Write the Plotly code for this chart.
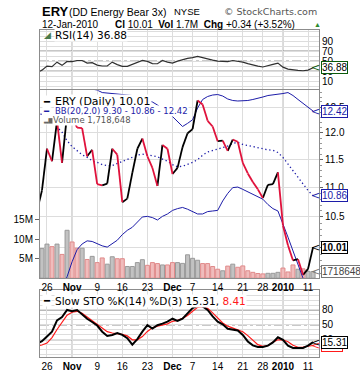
import math
import plotly.graph_objects as go

# ---------------- data ----------------
dates = ["2009-10-22", "2009-10-23", "2009-10-26", "2009-10-27", "2009-10-28", "2009-10-29", "2009-10-30",
         "2009-11-02", "2009-11-03", "2009-11-04", "2009-11-05", "2009-11-06",
         "2009-11-09", "2009-11-10", "2009-11-11", "2009-11-12", "2009-11-13",
         "2009-11-16", "2009-11-17", "2009-11-18", "2009-11-19", "2009-11-20",
         "2009-11-23", "2009-11-24", "2009-11-25", "2009-11-27", "2009-11-30",
         "2009-12-01", "2009-12-02", "2009-12-03", "2009-12-04",
         "2009-12-07", "2009-12-08", "2009-12-09", "2009-12-10", "2009-12-11",
         "2009-12-14", "2009-12-15", "2009-12-16", "2009-12-17", "2009-12-18",
         "2009-12-21", "2009-12-22", "2009-12-23", "2009-12-24",
         "2009-12-28", "2009-12-29", "2009-12-30", "2009-12-31",
         "2010-01-04", "2010-01-05", "2010-01-06", "2010-01-07", "2010-01-08",
         "2010-01-11", "2010-01-12"]

close = [10.60, 10.95, 11.70, 11.47, 12.23, 11.44, 12.35,
         12.30, 12.10, 12.09, 11.56, 11.68,
         11.06, 11.04, 11.07, 11.70, 11.59,
         10.75, 10.81, 11.26, 11.70, 11.89,
         11.56, 11.35, 11.03, 11.77, 11.70,
         11.24, 11.35, 11.73, 11.99,
         12.07, 12.63, 12.55, 12.23, 12.12,
         11.84, 11.85, 11.66, 11.87, 11.83,
         11.44, 11.25, 11.10, 10.97,
         10.82, 11.05, 11.06, 11.27,
         10.36, 10.04, 9.80, 9.82, 9.58,
         9.67, 10.01]

bb_upper = [14.9, 14.9, 14.9, 14.9, 14.92, 14.64, 14.15,
            13.70, 13.35, 13.12, 12.97, 12.86,
            12.84, 12.79, 12.78, 12.78, 12.77,
            12.76, 12.75, 12.73, 12.69, 12.66,
            12.63, 12.60, 12.54, 12.46, 12.41,
            12.31, 12.22, 12.12, 12.18,
            12.25, 12.48, 12.65, 12.71, 12.74,
            12.75, 12.72, 12.66, 12.63, 12.62,
            12.62, 12.63, 12.65, 12.67,
            12.70, 12.73, 12.74, 12.75,
            12.77, 12.79, 12.73, 12.65, 12.57,
            12.49, 12.42]

bb_mid = [12.40, 12.35, 12.28, 12.20, 12.11, 12.01, 11.85,
          11.74, 11.66, 11.59, 11.54, 11.48,
          11.45, 11.41, 11.39, 11.39, 11.43,
          11.47, 11.50, 11.54, 11.58, 11.60,
          11.59, 11.57, 11.55, 11.51, 11.47,
          11.41, 11.37, 11.38, 11.41,
          11.45, 11.50, 11.58, 11.64, 11.67,
          11.69, 11.72, 11.75, 11.80, 11.82,
          11.78, 11.76, 11.73, 11.71,
          11.69, 11.68, 11.67, 11.63,
          11.54, 11.42, 11.31, 11.20, 11.07,
          10.95, 10.86]

bb_lower = [9.25, 9.20, 9.20, 9.25, 9.30, 9.38, 9.55,
            9.78, 9.97, 10.06, 10.11, 10.10,
            10.06, 10.03, 10.01, 10.07, 10.12,
            10.21, 10.28, 10.33, 10.42, 10.50,
            10.51, 10.49, 10.45, 10.51, 10.55,
            10.61, 10.64, 10.66, 10.63,
            10.59, 10.55, 10.55, 10.59, 10.60,
            10.61, 10.77, 10.90, 11.00, 11.01,
            10.97, 10.93, 10.88, 10.84,
            10.80, 10.71, 10.64, 10.60,
            10.39, 10.17, 9.95, 9.75, 9.53,
            9.39, 9.30]

volume = [7.0e6, 7.6e6, 8.75e6, 8.1e6, 8.75e6, 6.1e6, 12.3e6,
          9.3e6, 7.7e6, 7.7e6, 4.8e6, 5.6e6,
          4.0e6, 5.2e6, 3.6e6, 5.5e6, 5.0e6,
          5.0e6, 3.0e6, 3.0e6, 4.0e6, 4.75e6,
          3.3e6, 4.0e6, 3.75e6, 3.4e6, 3.4e6,
          4.0e6, 4.0e6, 3.8e6, 6.0e6,
          5.1e6, 4.6e6, 3.75e6, 3.75e6, 3.0e6,
          2.3e6, 1.9e6, 3.1e6, 3.6e6, 2.8e6,
          3.15e6, 1.9e6, 1.5e6, 1.2e6,
          1.1e6, 1.25e6, 1.25e6, 1.5e6,
          2.6e6, 1.6e6, 3.4e6, 2.3e6, 2.4e6,
          1.75e6, 1718648]

# bar direction (1 = up/grey, 0 = down/pink)
vol_up = [1, 1, 1, 0, 1, 0, 1,
          0, 0, 1, 0, 1,
          0, 0, 1, 1, 0,
          0, 1, 1, 1, 1,
          0, 0, 0, 1, 0,
          0, 1, 1, 1,
          1, 1, 0, 0, 0,
          0, 1, 0, 1, 0,
          0, 0, 0, 0,
          0, 1, 1, 1,
          0, 0, 0, 1, 0,
          1, 1]

rsi = [27, 32, 40, 39, 48, 41.6, 49.4,
       49, 51.3, 51.3, 46, 47,
       42, 40.3, 40.5, 48, 43,
       39.7, 39.7, 44, 48, 51.3,
       49.4, 45, 44.8, 51.3, 48,
       46, 50, 53, 55.5,
       57, 59.5, 57, 54, 52,
       50, 49.4, 49, 51.3, 50,
       48, 45, 42, 40,
       38.3, 41.6, 43.5, 46.1,
       38, 34, 32, 31.5, 30.8,
       32, 36.88]

sto_k = [12, 17, 26.5, 36.3, 59.2, 65.7, 80,
         77.4, 80, 71, 62.4, 55.9,
         48.7, 36.3, 27.8, 29.8, 33.7,
         29.8, 23.1, 10.2, 21.2, 36.3,
         49.4, 42.7, 49.4, 52.6, 56.5,
         62.4, 57.8, 62.4, 73.5,
         83.9, 88.6, 87.3, 80, 67,
         56.5, 51.3, 42, 40.8, 38.8,
         29.8, 16.7, 8.8, 5.5,
         5.5, 8.2, 14.6, 25.1,
         20, 8.2, 3.6, 3.6, 3.6,
         8.2, 15.31]

sto_d = [8, 9.4, 13.3, 24.5, 40.8, 55.9, 69.6,
         75.5, 77.4, 73.5, 65.7, 59.2,
         50.6, 43.5, 36.3, 33.7, 32.4,
         31, 27.8, 20, 20, 26.5,
         36.9, 44.1, 47.4, 50, 52,
         57.2, 59.2, 63.1, 69,
         77.4, 85.3, 86.6, 83.3, 74.1,
         63.7, 53.9, 47.4, 43.5, 40.8,
         36.3, 28.4, 18.6, 10.2,
         6.9, 8.2, 15.3, 20,
         20, 16, 8.8, 4.9, 5.5,
         6.9, 8.41]

tick_dates = ["2009-10-26", "2009-11-02", "2009-11-09", "2009-11-16", "2009-11-23", "2009-12-01",
              "2009-12-07", "2009-12-14", "2009-12-21", "2009-12-28", "2010-01-04", "2010-01-11"]
tick_labels = ["26", "Nov", "9", "16", "23", "Dec", "7", "14", "21", "28", "2010", "11"]

price_ticks = [10.0, 10.5, 11.0, 11.5, 12.0, 12.5]
volume_ticks = [5e6, 10e6, 15e6]
rsi_ticks = [10, 30, 50, 70, 90]
sto_ticks = [20, 50, 80]

# ---------------- derived ----------------
x = list(range(len(dates)))
tickvals = [dates.index(d) for d in tick_dates]
is_month = [not t.isdigit() or len(t) == 4 for t in tick_labels]
ticktext = [f"<b>{t}</b>" if m else t for t, m in zip(tick_labels, is_month)]

RED = "#e0123c"
NAVY = "#1c1ca8"
GRID = "#dddddd"
BORDER = "#8c8c8c"
TICKFONT = dict(family="Liberation Sans, Arial", size=10, color="black")

up_x, up_y, dn_x, dn_y = [], [], [], []
for i in range(1, len(close)):
    if close[i] >= close[i - 1]:
        up_x += [x[i - 1], x[i], None]; up_y += [close[i - 1], close[i], None]
    else:
        dn_x += [x[i - 1], x[i], None]; dn_y += [close[i - 1], close[i], None]

fig = go.Figure()

# volume (base axis of main panel)
fig.add_trace(go.Bar(x=x, y=volume, xaxis="x2", yaxis="y2", width=0.8,
                     marker=dict(color=["#c2c2c2" if u else "#f0bcbc" for u in vol_up],
                                 line=dict(color=["#9a9a9a" if u else "#e08a8a" for u in vol_up], width=1)),
                     hoverinfo="skip"))
# bollinger bands
fig.add_trace(go.Scatter(x=x, y=bb_upper, xaxis="x2", yaxis="y3", mode="lines",
                         line=dict(color=NAVY, width=1)))
fig.add_trace(go.Scatter(x=x, y=bb_lower, xaxis="x2", yaxis="y3", mode="lines",
                         line=dict(color=NAVY, width=1)))
fig.add_trace(go.Scatter(x=x, y=bb_mid, xaxis="x2", yaxis="y3", mode="lines",
                         line=dict(color=NAVY, width=1.3, dash="1.3px,2.7px")))
# price
fig.add_trace(go.Scatter(x=up_x, y=up_y, xaxis="x2", yaxis="y3", mode="lines",
                         line=dict(color="black", width=1.8)))
fig.add_trace(go.Scatter(x=dn_x, y=dn_y, xaxis="x2", yaxis="y3", mode="lines",
                         line=dict(color=RED, width=1.8)))
# RSI
fig.add_trace(go.Scatter(x=x, y=rsi, xaxis="x3", yaxis="y4", mode="lines",
                         line=dict(color="#303030", width=1.2)))
# Slow STO
fig.add_trace(go.Scatter(x=x, y=sto_d, xaxis="x", yaxis="y", mode="lines",
                         line=dict(color="#ff1a1a", width=1.2)))
fig.add_trace(go.Scatter(x=x, y=sto_k, xaxis="x", yaxis="y", mode="lines",
                         line=dict(color="black", width=2)))

xr = [0.61, len(dates) - 1 + 1.18]
common_x = dict(range=xr, tickvals=tickvals, ticktext=ticktext, showgrid=True, gridcolor=GRID,
                gridwidth=1, showline=True, linecolor=BORDER, mirror=True, ticks="",
                tickfont=TICKFONT, zeroline=False)

W, H = 360, 384
ML, MR, MT, MB = 40, 41, 30, 18
PW, PH = W - ML - MR, H - MT - MB


def px2paper(px, py):
    return (px - ML) / PW, (H - MB - py) / PH


def pyfrac(py):
    return (H - MB - py) / PH


fig.update_layout(
    width=W, height=H, margin=dict(l=ML, r=MR, t=MT, b=MB),
    paper_bgcolor="white", plot_bgcolor="white", showlegend=False,
    xaxis=dict(anchor="y", **common_x),
    xaxis2=dict(anchor="y2", matches="x", **common_x),
    xaxis3=dict(anchor="y4", matches="x", **{**common_x, "showticklabels": False}),
    yaxis=dict(domain=[0, pyfrac(297)], range=[-14.7, 120.6], side="right", tickvals=sto_ticks,
               showgrid=False, minor=dict(dtick=10, showgrid=True, gridcolor=GRID),
               showline=True, linecolor=BORDER, mirror=True, ticks="", tickfont=TICKFONT, zeroline=False),
    yaxis2=dict(domain=[pyfrac(285), pyfrac(92)], range=[0, 48.25e6], side="left",
                tickvals=volume_ticks, ticktext=[f"{int(v / 1e6)}M" for v in volume_ticks],
                showgrid=False, showline=True, linecolor=BORDER, mirror=True, ticks="outside",
                ticklen=4, tickcolor="#666", tickfont=TICKFONT, zeroline=False),
    yaxis3=dict(overlaying="y2", type="log", range=[math.log10(9.529), math.log10(12.835)], side="right",
                tickvals=price_ticks, ticktext=[f"{v:.1f}" for v in price_ticks],
                showgrid=True, gridcolor=GRID, ticks="outside", ticklen=3, tickcolor="#666",
                minor=dict(tickvals=[round(9.6 + 0.1 * k, 1) for k in range(33)], ticks="outside",
                           ticklen=2, tickcolor="#999"),
                tickfont=TICKFONT, zeroline=False),
    yaxis4=dict(domain=[pyfrac(91), 1], range=[-6.3, 112.1], side="right", tickvals=rsi_ticks,
                showgrid=False, minor=dict(dtick=10, showgrid=True, gridcolor=GRID),
                showline=True, linecolor=BORDER, mirror=True, ticks="", tickfont=TICKFONT, zeroline=False),
)

shapes = []
# month separator lines, darker
for tv, m in zip(tickvals, is_month):
    if m:
        for yr, xr_ in [("y domain", "x"), ("y2 domain", "x2"), ("y4 domain", "x3")]:
            shapes.append(dict(type="line", xref=xr_, yref=yr, x0=tv, x1=tv, y0=0, y1=1,
                               line=dict(color="#a8a8a8", width=1), layer="below"))
# signal levels
for yv, dash in [(70, "solid"), (30, "solid"), (50, "dashdot")]:
    shapes.append(dict(type="line", xref="x3 domain", yref="y4", x0=0, x1=1, y0=yv, y1=yv,
                       line=dict(color="#707070", width=1, dash=dash), layer="below"))
for yv, dash in [(80, "solid"), (20, "solid"), (50, "dashdot")]:
    shapes.append(dict(type="line", xref="x domain", yref="y", x0=0, x1=1, y0=yv, y1=yv,
                       line=dict(color="#707070", width=1, dash=dash), layer="below"))
fig.update_layout(shapes=shapes)

ann = []


def text_at(px, py, text, size, color="black", family="Liberation Sans, Arial", anchor="left", bg=None):
    xp, yp = px2paper(px, py)
    d = dict(xref="paper", yref="paper", x=xp, y=yp, text=text, showarrow=False,
             xanchor=anchor, yanchor="middle", font=dict(family=family, size=size, color=color))
    if bg:
        d.update(bgcolor=bg, borderpad=0)
    ann.append(d)


# header
text_at(40, 10.5, "<b>ERY</b>", 13)
text_at(67, 11, "(DD Energy Bear 3x)", 10.5)
text_at(172, 11, "NYSE", 9.5)
text_at(319, 11, "© StockCharts.com", 9.5, color="#555555", family="DejaVu Sans", anchor="right")
text_at(40, 24, "12-Jan-2010", 10)
text_at(113, 24, "<b>Cl</b> 10.01  <b>Vol</b> 1.7M  <b>Chg</b> +0.34 (+3.52%)", 10)
text_at(312, 24, "▲", 7, color="#2e8b2e")

LEG = "DejaVu Sans"
# RSI legend
text_at(42, 35.5, "◢", 9, color="#4a7a4a", family=LEG)
text_at(54, 35.5, "RSI(14) 36.88", 10.5, family=LEG, bg="white")
# main legend
text_at(42, 103, "━", 10, family=LEG, bg="white")
text_at(54, 103, "ERY (Daily) 10.01", 11, family=LEG, bg="white")
text_at(42, 113.7, "━", 8.5, color=NAVY, family=LEG, bg="white")
text_at(54, 113.7, "BB(20,2.0) 9.30 - 10.86 - 12.42", 8.5, color=NAVY, family=LEG, bg="white")
text_at(42, 122, "▂▆▄", 6, color="#666666", family=LEG, bg="white")
text_at(52, 122, "Volume 1,718,648", 8.5, color="#555555", family=LEG, bg="white")
# STO legend
text_at(42, 308, "━", 10, family=LEG, bg="white")
text_at(54, 308, "Slow STO %K(14) %D(3) 15.31, <span style='color:#ff1a1a'>8.41</span>", 10.5,
        family=LEG, bg="white")


def tag(yref, yval, text, color, textcolor=None, bold=False):
    ann.append(dict(xref="paper", x=1.0, xanchor="right", xshift=3, yref=yref, y=yval, yanchor="middle",
                    text="<", showarrow=False,
                    font=dict(family="DejaVu Sans", size=11, color=color)))
    ann.append(dict(xref="paper", x=1.0, xanchor="left", xshift=2, yref=yref, y=yval, yanchor="middle",
                    text=f"<b>{text}</b>" if bold else text, showarrow=False,
                    font=dict(family="Liberation Sans, Arial", size=10, color=textcolor or color),
                    bgcolor="white", bordercolor=color, borderwidth=1, borderpad=0))


tag("y4", rsi[-1], f"{rsi[-1]:.2f}", "#0a5a0a", "black")
tag("y3", math.log10(bb_upper[-1]), f"{bb_upper[-1]:.2f}", NAVY)
tag("y3", math.log10(bb_mid[-1]), f"{bb_mid[-1]:.2f}", NAVY)
tag("y3", math.log10(close[-1]), f"{close[-1]:.2f}", "black", bold=True)
tag("y2", volume[-1], f"{int(volume[-1])}", "#777777", "#444444")
tag("y3", math.log10(bb_lower[-1]), f"{bb_lower[-1]:.2f}", NAVY)
tag("y", sto_d[-1], f"{sto_d[-1]:.2f}", "#ff1a1a")
tag("y", sto_k[-1], f"{sto_k[-1]:.2f}", "black")

fig.update_layout(annotations=ann)
fig.write_html("out.html", config={"displayModeBar": False},
               post_script="document.body.style.margin='0px';document.body.style.padding='0px';")
